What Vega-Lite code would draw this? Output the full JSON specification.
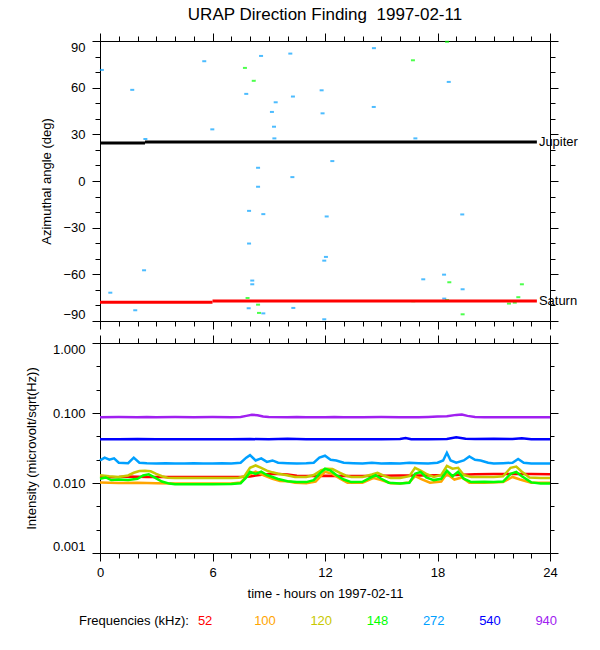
{
  "$schema": "https://vega.github.io/schema/vega-lite/v6.json",
  "description": "URAP direction finding, 1997-02-11: azimuth of detections and intensity per frequency",
  "background": "white",
  "padding": {"left": 25, "top": 5, "right": 5, "bottom": 5},
  "spacing": 4,
  "config": {
    "font": "Liberation Sans",
    "view": {"stroke": null},
    "axis": {
      "grid": false,
      "labelFont": "Liberation Sans",
      "labelFontSize": 13,
      "labelColor": "black",
      "titleFont": "Liberation Sans",
      "titleFontSize": 13,
      "titleFontWeight": "normal",
      "titleColor": "black",
      "tickColor": "black",
      "tickWidth": 1,
      "domainColor": "black",
      "domainWidth": 1
    },
    "text": {"font": "Liberation Sans", "fontSize": 13}
  },
  "datasets": {
    "points": [
      {"freq": "272", "hour": 0.1, "angle": 71.4},
      {"freq": "272", "hour": 1.72, "angle": 58.6},
      {"freq": "272", "hour": 5.56, "angle": 77.0},
      {"freq": "272", "hour": 8.59, "angle": 80.4},
      {"freq": "272", "hour": 10.15, "angle": 81.9},
      {"freq": "272", "hour": 7.8, "angle": 56.0},
      {"freq": "272", "hour": 9.37, "angle": 50.6},
      {"freq": "272", "hour": 9.17, "angle": 44.4},
      {"freq": "272", "hour": 9.28, "angle": 34.9},
      {"freq": "272", "hour": 9.3, "angle": 27.4},
      {"freq": "272", "hour": 5.99, "angle": 33.2},
      {"freq": "272", "hour": 2.42, "angle": 27.0},
      {"freq": "272", "hour": 10.29, "angle": 54.3},
      {"freq": "272", "hour": 11.82, "angle": 58.3},
      {"freq": "272", "hour": 11.87, "angle": 43.5},
      {"freq": "272", "hour": 12.39, "angle": 12.8},
      {"freq": "272", "hour": 8.43, "angle": 8.5},
      {"freq": "272", "hour": 10.26, "angle": 2.5},
      {"freq": "272", "hour": 8.43, "angle": -3.7},
      {"freq": "272", "hour": 7.95, "angle": -19.2},
      {"freq": "272", "hour": 8.71, "angle": -21.3},
      {"freq": "272", "hour": 12.09, "angle": -22.8},
      {"freq": "272", "hour": 7.95, "angle": -40.2},
      {"freq": "272", "hour": 12.05, "angle": -48.8},
      {"freq": "272", "hour": 11.96, "angle": -51.2},
      {"freq": "272", "hour": 2.35, "angle": -57.4},
      {"freq": "272", "hour": 8.12, "angle": -64.0},
      {"freq": "272", "hour": 8.12, "angle": -66.4},
      {"freq": "272", "hour": 0.55, "angle": -71.8},
      {"freq": "272", "hour": 8.71, "angle": -85.1},
      {"freq": "272", "hour": 7.93, "angle": -81.8},
      {"freq": "272", "hour": 10.31, "angle": -81.6},
      {"freq": "272", "hour": 1.88, "angle": -83.1},
      {"freq": "272", "hour": 11.96, "angle": -88.9},
      {"freq": "272", "hour": 14.61, "angle": 85.4},
      {"freq": "272", "hour": 18.6, "angle": 63.7},
      {"freq": "272", "hour": 14.6, "angle": 47.6},
      {"freq": "272", "hour": 16.82, "angle": 27.4},
      {"freq": "272", "hour": 19.32, "angle": -21.5},
      {"freq": "272", "hour": 17.24, "angle": -63.2},
      {"freq": "272", "hour": 18.35, "angle": -60.2},
      {"freq": "272", "hour": 19.34, "angle": -69.6},
      {"freq": "272", "hour": 18.36, "angle": -75.6},
      {"freq": "148", "hour": 7.73, "angle": 72.7},
      {"freq": "148", "hour": 8.2, "angle": 64.4},
      {"freq": "148", "hour": 7.87, "angle": -75.2},
      {"freq": "148", "hour": 8.43, "angle": -79.5},
      {"freq": "148", "hour": 8.48, "angle": -84.8},
      {"freq": "148", "hour": 16.69, "angle": 77.6},
      {"freq": "148", "hour": 18.51, "angle": 89.5},
      {"freq": "148", "hour": 18.63, "angle": -65.1},
      {"freq": "148", "hour": 22.5, "angle": -66.4},
      {"freq": "148", "hour": 22.31, "angle": -74.7},
      {"freq": "148", "hour": 18.51, "angle": -76.5},
      {"freq": "148", "hour": 16.71, "angle": -77.3},
      {"freq": "148", "hour": 21.81, "angle": -78.8},
      {"freq": "148", "hour": 22.12, "angle": -78.2},
      {"freq": "148", "hour": 19.34, "angle": -85.7}
    ],
    "planets": [
      {"planet": "Jupiter", "start": 0, "end": 2.4, "angle": 24.4},
      {"planet": "Jupiter", "start": 2.4, "end": 23.3, "angle": 25.1},
      {"planet": "Saturn", "start": 0, "end": 6.0, "angle": -78.0},
      {"planet": "Saturn", "start": 6.0, "end": 23.3, "angle": -77.1}
    ],
    "intensity": [
      {"freq": "52", "hour": 0, "value": 0.0121},
      {"freq": "52", "hour": 0.5, "value": 0.0121},
      {"freq": "52", "hour": 1, "value": 0.0122},
      {"freq": "52", "hour": 1.5, "value": 0.0124},
      {"freq": "52", "hour": 2, "value": 0.0123},
      {"freq": "52", "hour": 2.5, "value": 0.0122},
      {"freq": "52", "hour": 3, "value": 0.0122},
      {"freq": "52", "hour": 4, "value": 0.0122},
      {"freq": "52", "hour": 5, "value": 0.0122},
      {"freq": "52", "hour": 6, "value": 0.0122},
      {"freq": "52", "hour": 7, "value": 0.0122},
      {"freq": "52", "hour": 7.5, "value": 0.0122},
      {"freq": "52", "hour": 8, "value": 0.0124},
      {"freq": "52", "hour": 8.5, "value": 0.013},
      {"freq": "52", "hour": 9, "value": 0.0134},
      {"freq": "52", "hour": 9.5, "value": 0.0135},
      {"freq": "52", "hour": 10, "value": 0.0132},
      {"freq": "52", "hour": 10.5, "value": 0.0127},
      {"freq": "52", "hour": 11, "value": 0.0126},
      {"freq": "52", "hour": 12, "value": 0.0127},
      {"freq": "52", "hour": 13, "value": 0.0126},
      {"freq": "52", "hour": 14, "value": 0.0126},
      {"freq": "52", "hour": 15, "value": 0.0127},
      {"freq": "52", "hour": 16, "value": 0.0128},
      {"freq": "52", "hour": 17, "value": 0.0128},
      {"freq": "52", "hour": 18, "value": 0.0129},
      {"freq": "52", "hour": 19, "value": 0.013},
      {"freq": "52", "hour": 20, "value": 0.0133},
      {"freq": "52", "hour": 21, "value": 0.0135},
      {"freq": "52", "hour": 22, "value": 0.0135},
      {"freq": "52", "hour": 23, "value": 0.0134},
      {"freq": "52", "hour": 24, "value": 0.0133},

      {"freq": "100", "hour": 0, "value": 0.0102},
      {"freq": "100", "hour": 1, "value": 0.01},
      {"freq": "100", "hour": 2, "value": 0.0101},
      {"freq": "100", "hour": 3, "value": 0.0099},
      {"freq": "100", "hour": 4, "value": 0.0098},
      {"freq": "100", "hour": 5, "value": 0.0098},
      {"freq": "100", "hour": 6, "value": 0.0098},
      {"freq": "100", "hour": 7, "value": 0.0098},
      {"freq": "100", "hour": 7.5, "value": 0.0102},
      {"freq": "100", "hour": 7.9, "value": 0.013},
      {"freq": "100", "hour": 8.3, "value": 0.0145},
      {"freq": "100", "hour": 8.7, "value": 0.013},
      {"freq": "100", "hour": 9.2, "value": 0.0115},
      {"freq": "100", "hour": 9.6, "value": 0.0107},
      {"freq": "100", "hour": 10, "value": 0.0106},
      {"freq": "100", "hour": 10.4, "value": 0.0101},
      {"freq": "100", "hour": 11, "value": 0.0099},
      {"freq": "100", "hour": 11.5, "value": 0.0105},
      {"freq": "100", "hour": 12, "value": 0.0145},
      {"freq": "100", "hour": 12.4, "value": 0.0135},
      {"freq": "100", "hour": 12.8, "value": 0.0115},
      {"freq": "100", "hour": 13.2, "value": 0.0101},
      {"freq": "100", "hour": 14, "value": 0.0101},
      {"freq": "100", "hour": 14.6, "value": 0.0118},
      {"freq": "100", "hour": 15, "value": 0.011},
      {"freq": "100", "hour": 15.5, "value": 0.0099},
      {"freq": "100", "hour": 16, "value": 0.0098},
      {"freq": "100", "hour": 16.5, "value": 0.0102},
      {"freq": "100", "hour": 16.8, "value": 0.0125},
      {"freq": "100", "hour": 17.2, "value": 0.0112},
      {"freq": "100", "hour": 17.6, "value": 0.0101},
      {"freq": "100", "hour": 18.2, "value": 0.0105},
      {"freq": "100", "hour": 18.5, "value": 0.0135},
      {"freq": "100", "hour": 18.9, "value": 0.0112},
      {"freq": "100", "hour": 19.3, "value": 0.012},
      {"freq": "100", "hour": 19.7, "value": 0.0101},
      {"freq": "100", "hour": 20.5, "value": 0.0101},
      {"freq": "100", "hour": 21.5, "value": 0.0103},
      {"freq": "100", "hour": 22, "value": 0.0122},
      {"freq": "100", "hour": 22.4, "value": 0.0112},
      {"freq": "100", "hour": 23, "value": 0.0101},
      {"freq": "100", "hour": 24, "value": 0.0101},

      {"freq": "120", "hour": 0, "value": 0.0129},
      {"freq": "120", "hour": 0.5, "value": 0.0125},
      {"freq": "120", "hour": 1, "value": 0.0122},
      {"freq": "120", "hour": 1.5, "value": 0.0128},
      {"freq": "120", "hour": 1.8, "value": 0.014},
      {"freq": "120", "hour": 2.1, "value": 0.0148},
      {"freq": "120", "hour": 2.4, "value": 0.015},
      {"freq": "120", "hour": 2.7, "value": 0.0147},
      {"freq": "120", "hour": 3.0, "value": 0.0135},
      {"freq": "120", "hour": 3.3, "value": 0.0125},
      {"freq": "120", "hour": 3.6, "value": 0.0119},
      {"freq": "120", "hour": 4, "value": 0.0118},
      {"freq": "120", "hour": 5, "value": 0.0118},
      {"freq": "120", "hour": 6, "value": 0.0118},
      {"freq": "120", "hour": 7, "value": 0.0118},
      {"freq": "120", "hour": 7.4, "value": 0.0119},
      {"freq": "120", "hour": 7.7, "value": 0.0125},
      {"freq": "120", "hour": 8.0, "value": 0.0165},
      {"freq": "120", "hour": 8.3, "value": 0.0178},
      {"freq": "120", "hour": 8.6, "value": 0.0165},
      {"freq": "120", "hour": 8.9, "value": 0.015},
      {"freq": "120", "hour": 9.2, "value": 0.0142},
      {"freq": "120", "hour": 9.5, "value": 0.0136},
      {"freq": "120", "hour": 9.9, "value": 0.013},
      {"freq": "120", "hour": 10.4, "value": 0.0122},
      {"freq": "120", "hour": 11, "value": 0.0122},
      {"freq": "120", "hour": 11.4, "value": 0.013},
      {"freq": "120", "hour": 11.8, "value": 0.0152},
      {"freq": "120", "hour": 12.1, "value": 0.016},
      {"freq": "120", "hour": 12.4, "value": 0.0158},
      {"freq": "120", "hour": 12.8, "value": 0.014},
      {"freq": "120", "hour": 13.1, "value": 0.0128},
      {"freq": "120", "hour": 13.4, "value": 0.0122},
      {"freq": "120", "hour": 14, "value": 0.0122},
      {"freq": "120", "hour": 14.5, "value": 0.0132},
      {"freq": "120", "hour": 14.8, "value": 0.014},
      {"freq": "120", "hour": 15.1, "value": 0.0128},
      {"freq": "120", "hour": 15.5, "value": 0.0118},
      {"freq": "120", "hour": 16, "value": 0.0118},
      {"freq": "120", "hour": 16.5, "value": 0.0125},
      {"freq": "120", "hour": 16.8, "value": 0.0165},
      {"freq": "120", "hour": 17.1, "value": 0.015},
      {"freq": "120", "hour": 17.4, "value": 0.0135},
      {"freq": "120", "hour": 17.8, "value": 0.0122},
      {"freq": "120", "hour": 18.2, "value": 0.013},
      {"freq": "120", "hour": 18.5, "value": 0.0175},
      {"freq": "120", "hour": 18.8, "value": 0.016},
      {"freq": "120", "hour": 19.1, "value": 0.0165},
      {"freq": "120", "hour": 19.4, "value": 0.013},
      {"freq": "120", "hour": 19.8, "value": 0.0122},
      {"freq": "120", "hour": 20.5, "value": 0.0122},
      {"freq": "120", "hour": 21, "value": 0.0122},
      {"freq": "120", "hour": 21.5, "value": 0.0125},
      {"freq": "120", "hour": 21.9, "value": 0.0165},
      {"freq": "120", "hour": 22.2, "value": 0.0172},
      {"freq": "120", "hour": 22.5, "value": 0.0145},
      {"freq": "120", "hour": 22.9, "value": 0.012},
      {"freq": "120", "hour": 23.5, "value": 0.0118},
      {"freq": "120", "hour": 24, "value": 0.0118},

      {"freq": "148", "hour": 0, "value": 0.0115},
      {"freq": "148", "hour": 0.3, "value": 0.012},
      {"freq": "148", "hour": 0.6, "value": 0.011},
      {"freq": "148", "hour": 1, "value": 0.0112},
      {"freq": "148", "hour": 1.5, "value": 0.011},
      {"freq": "148", "hour": 2, "value": 0.0115},
      {"freq": "148", "hour": 2.3, "value": 0.0128},
      {"freq": "148", "hour": 2.6, "value": 0.0133},
      {"freq": "148", "hour": 2.9, "value": 0.012},
      {"freq": "148", "hour": 3.3, "value": 0.0105},
      {"freq": "148", "hour": 3.7, "value": 0.0098},
      {"freq": "148", "hour": 4, "value": 0.0096},
      {"freq": "148", "hour": 5, "value": 0.0096},
      {"freq": "148", "hour": 6, "value": 0.0096},
      {"freq": "148", "hour": 7, "value": 0.0097},
      {"freq": "148", "hour": 7.5, "value": 0.0099},
      {"freq": "148", "hour": 7.8, "value": 0.012},
      {"freq": "148", "hour": 8.0, "value": 0.0145},
      {"freq": "148", "hour": 8.3, "value": 0.0135},
      {"freq": "148", "hour": 8.6, "value": 0.0145},
      {"freq": "148", "hour": 8.9, "value": 0.013},
      {"freq": "148", "hour": 9.2, "value": 0.0122},
      {"freq": "148", "hour": 9.5, "value": 0.0114},
      {"freq": "148", "hour": 10, "value": 0.0106},
      {"freq": "148", "hour": 10.5, "value": 0.0103},
      {"freq": "148", "hour": 11, "value": 0.0103},
      {"freq": "148", "hour": 11.4, "value": 0.011},
      {"freq": "148", "hour": 11.7, "value": 0.0135},
      {"freq": "148", "hour": 12, "value": 0.016},
      {"freq": "148", "hour": 12.3, "value": 0.015},
      {"freq": "148", "hour": 12.6, "value": 0.013},
      {"freq": "148", "hour": 13, "value": 0.0112},
      {"freq": "148", "hour": 13.4, "value": 0.0103},
      {"freq": "148", "hour": 14, "value": 0.0104},
      {"freq": "148", "hour": 14.4, "value": 0.0118},
      {"freq": "148", "hour": 14.7, "value": 0.0129},
      {"freq": "148", "hour": 15, "value": 0.0115},
      {"freq": "148", "hour": 15.4, "value": 0.0101},
      {"freq": "148", "hour": 16, "value": 0.0098},
      {"freq": "148", "hour": 16.5, "value": 0.0101},
      {"freq": "148", "hour": 16.8, "value": 0.0135},
      {"freq": "148", "hour": 17.1, "value": 0.0144},
      {"freq": "148", "hour": 17.4, "value": 0.012},
      {"freq": "148", "hour": 17.8, "value": 0.011},
      {"freq": "148", "hour": 18.2, "value": 0.0115},
      {"freq": "148", "hour": 18.5, "value": 0.015},
      {"freq": "148", "hour": 18.8, "value": 0.0125},
      {"freq": "148", "hour": 19.1, "value": 0.0145},
      {"freq": "148", "hour": 19.4, "value": 0.0115},
      {"freq": "148", "hour": 19.8, "value": 0.0103},
      {"freq": "148", "hour": 20.5, "value": 0.0104},
      {"freq": "148", "hour": 21, "value": 0.0103},
      {"freq": "148", "hour": 21.5, "value": 0.0105},
      {"freq": "148", "hour": 21.9, "value": 0.0135},
      {"freq": "148", "hour": 22.2, "value": 0.0144},
      {"freq": "148", "hour": 22.5, "value": 0.0125},
      {"freq": "148", "hour": 23, "value": 0.0102},
      {"freq": "148", "hour": 23.5, "value": 0.0098},
      {"freq": "148", "hour": 24, "value": 0.0098},

      {"freq": "272", "hour": 0, "value": 0.021},
      {"freq": "272", "hour": 0.25, "value": 0.023},
      {"freq": "272", "hour": 0.5, "value": 0.0215},
      {"freq": "272", "hour": 0.75, "value": 0.0225},
      {"freq": "272", "hour": 1, "value": 0.0195},
      {"freq": "272", "hour": 1.5, "value": 0.0192},
      {"freq": "272", "hour": 1.8, "value": 0.023},
      {"freq": "272", "hour": 2.1, "value": 0.0195},
      {"freq": "272", "hour": 2.5, "value": 0.0192},
      {"freq": "272", "hour": 3, "value": 0.019},
      {"freq": "272", "hour": 3.5, "value": 0.0192},
      {"freq": "272", "hour": 4, "value": 0.019},
      {"freq": "272", "hour": 4.5, "value": 0.019},
      {"freq": "272", "hour": 5, "value": 0.0192},
      {"freq": "272", "hour": 5.5, "value": 0.019},
      {"freq": "272", "hour": 6, "value": 0.019},
      {"freq": "272", "hour": 6.5, "value": 0.0192},
      {"freq": "272", "hour": 7, "value": 0.019},
      {"freq": "272", "hour": 7.5, "value": 0.0195},
      {"freq": "272", "hour": 7.8, "value": 0.023},
      {"freq": "272", "hour": 8.0, "value": 0.025},
      {"freq": "272", "hour": 8.3, "value": 0.021},
      {"freq": "272", "hour": 8.6, "value": 0.0225},
      {"freq": "272", "hour": 8.9, "value": 0.02},
      {"freq": "272", "hour": 9.2, "value": 0.021},
      {"freq": "272", "hour": 9.5, "value": 0.0195},
      {"freq": "272", "hour": 10, "value": 0.0192},
      {"freq": "272", "hour": 10.5, "value": 0.019},
      {"freq": "272", "hour": 11, "value": 0.0192},
      {"freq": "272", "hour": 11.4, "value": 0.0195},
      {"freq": "272", "hour": 11.7, "value": 0.023},
      {"freq": "272", "hour": 12.0, "value": 0.0245},
      {"freq": "272", "hour": 12.3, "value": 0.0215},
      {"freq": "272", "hour": 12.6, "value": 0.021},
      {"freq": "272", "hour": 13, "value": 0.0195},
      {"freq": "272", "hour": 13.5, "value": 0.0192},
      {"freq": "272", "hour": 14, "value": 0.019},
      {"freq": "272", "hour": 14.5, "value": 0.0195},
      {"freq": "272", "hour": 15, "value": 0.019},
      {"freq": "272", "hour": 15.5, "value": 0.0192},
      {"freq": "272", "hour": 16, "value": 0.019},
      {"freq": "272", "hour": 16.5, "value": 0.0195},
      {"freq": "272", "hour": 17, "value": 0.0192},
      {"freq": "272", "hour": 17.5, "value": 0.019},
      {"freq": "272", "hour": 18, "value": 0.0195},
      {"freq": "272", "hour": 18.3, "value": 0.021},
      {"freq": "272", "hour": 18.5, "value": 0.027},
      {"freq": "272", "hour": 18.7, "value": 0.021},
      {"freq": "272", "hour": 19, "value": 0.0195},
      {"freq": "272", "hour": 19.4, "value": 0.021},
      {"freq": "272", "hour": 19.7, "value": 0.024},
      {"freq": "272", "hour": 20, "value": 0.0215},
      {"freq": "272", "hour": 20.3, "value": 0.021},
      {"freq": "272", "hour": 20.7, "value": 0.0195},
      {"freq": "272", "hour": 21, "value": 0.019},
      {"freq": "272", "hour": 21.5, "value": 0.0192},
      {"freq": "272", "hour": 22, "value": 0.0195},
      {"freq": "272", "hour": 22.3, "value": 0.022},
      {"freq": "272", "hour": 22.6, "value": 0.0195},
      {"freq": "272", "hour": 23, "value": 0.019},
      {"freq": "272", "hour": 23.5, "value": 0.019},
      {"freq": "272", "hour": 24, "value": 0.019},

      {"freq": "540", "hour": 0, "value": 0.042},
      {"freq": "540", "hour": 1, "value": 0.042},
      {"freq": "540", "hour": 2, "value": 0.0425},
      {"freq": "540", "hour": 3, "value": 0.042},
      {"freq": "540", "hour": 4, "value": 0.042},
      {"freq": "540", "hour": 5, "value": 0.0422},
      {"freq": "540", "hour": 6, "value": 0.042},
      {"freq": "540", "hour": 7, "value": 0.042},
      {"freq": "540", "hour": 8, "value": 0.0425},
      {"freq": "540", "hour": 9, "value": 0.042},
      {"freq": "540", "hour": 10, "value": 0.043},
      {"freq": "540", "hour": 11, "value": 0.042},
      {"freq": "540", "hour": 12, "value": 0.0422},
      {"freq": "540", "hour": 13, "value": 0.042},
      {"freq": "540", "hour": 14, "value": 0.042},
      {"freq": "540", "hour": 15, "value": 0.042},
      {"freq": "540", "hour": 16, "value": 0.0425},
      {"freq": "540", "hour": 16.3, "value": 0.044},
      {"freq": "540", "hour": 16.6, "value": 0.0422},
      {"freq": "540", "hour": 17.5, "value": 0.042},
      {"freq": "540", "hour": 18.5, "value": 0.0425},
      {"freq": "540", "hour": 19, "value": 0.045},
      {"freq": "540", "hour": 19.5, "value": 0.043},
      {"freq": "540", "hour": 20, "value": 0.0425},
      {"freq": "540", "hour": 21, "value": 0.043},
      {"freq": "540", "hour": 22, "value": 0.0425},
      {"freq": "540", "hour": 22.5, "value": 0.0435},
      {"freq": "540", "hour": 23, "value": 0.0422},
      {"freq": "540", "hour": 24, "value": 0.042},

      {"freq": "940", "hour": 0, "value": 0.087},
      {"freq": "940", "hour": 1, "value": 0.0875},
      {"freq": "940", "hour": 2, "value": 0.087},
      {"freq": "940", "hour": 2.5, "value": 0.0875},
      {"freq": "940", "hour": 3, "value": 0.087},
      {"freq": "940", "hour": 4, "value": 0.0875},
      {"freq": "940", "hour": 5, "value": 0.087},
      {"freq": "940", "hour": 6, "value": 0.0875},
      {"freq": "940", "hour": 7, "value": 0.087},
      {"freq": "940", "hour": 7.5, "value": 0.088},
      {"freq": "940", "hour": 7.8, "value": 0.091},
      {"freq": "940", "hour": 8.1, "value": 0.094},
      {"freq": "940", "hour": 8.4, "value": 0.093},
      {"freq": "940", "hour": 8.7, "value": 0.089},
      {"freq": "940", "hour": 9, "value": 0.0875},
      {"freq": "940", "hour": 10, "value": 0.087},
      {"freq": "940", "hour": 10.5, "value": 0.0875},
      {"freq": "940", "hour": 11, "value": 0.087},
      {"freq": "940", "hour": 12, "value": 0.087},
      {"freq": "940", "hour": 12.5, "value": 0.0875},
      {"freq": "940", "hour": 13, "value": 0.087},
      {"freq": "940", "hour": 14, "value": 0.087},
      {"freq": "940", "hour": 15, "value": 0.0875},
      {"freq": "940", "hour": 16, "value": 0.087},
      {"freq": "940", "hour": 17, "value": 0.087},
      {"freq": "940", "hour": 17.5, "value": 0.088},
      {"freq": "940", "hour": 18, "value": 0.089},
      {"freq": "940", "hour": 18.5, "value": 0.09},
      {"freq": "940", "hour": 19, "value": 0.094},
      {"freq": "940", "hour": 19.3, "value": 0.095},
      {"freq": "940", "hour": 19.6, "value": 0.091},
      {"freq": "940", "hour": 20, "value": 0.088},
      {"freq": "940", "hour": 20.5, "value": 0.087},
      {"freq": "940", "hour": 21, "value": 0.087},
      {"freq": "940", "hour": 22, "value": 0.087},
      {"freq": "940", "hour": 23, "value": 0.087},
      {"freq": "940", "hour": 24, "value": 0.087}
    ],
    "freqs": [
      {"freq": "52"}, {"freq": "100"}, {"freq": "120"}, {"freq": "148"},
      {"freq": "272"}, {"freq": "540"}, {"freq": "940"}
    ]
  },
  "vconcat": [
    {
      "title": {
        "text": "URAP Direction Finding\u00a0 1997-02-11",
        "fontSize": 17,
        "fontWeight": "normal",
        "font": "Liberation Sans",
        "color": "black",
        "anchor": "middle",
        "frame": "group",
        "offset": 9
      },
      "width": 450,
      "height": 280,
      "resolve": {"axis": {"x": "independent", "y": "independent"}},
      "layer": [
        {
          "data": {"name": "points"},
          "mark": {"type": "tick", "orient": "horizontal", "size": 4, "thickness": 2},
          "encoding": {
            "x": {
              "field": "hour", "type": "quantitative",
              "scale": {"domain": [0, 24], "nice": false, "zero": false},
              "axis": {"orient": "bottom", "values": [0, 6, 12, 18, 24], "labels": false, "tickSize": 8, "title": null}
            },
            "y": {
              "field": "angle", "type": "quantitative",
              "scale": {"domain": [-90, 90], "nice": false, "zero": false},
              "axis": {
                "orient": "left", "values": [-90, -60, -30, 0, 30, 60, 90],
                "tickSize": 8, "labelPadding": 7, "labelFlush": true,
                "title": "Azimuthal angle (deg)", "titlePadding": 9
              }
            },
            "color": {
              "field": "freq", "type": "nominal",
              "scale": {
                "domain": ["52", "100", "120", "148", "272", "540", "940"],
                "range": ["#ff0000", "#ffa500", "#c8c800", "#00ff00", "#00a0ff", "#0000ff", "#a020f0"]
              },
              "legend": null
            }
          }
        },
        {
          "data": {"name": "planets"},
          "transform": [{"filter": "datum.planet == 'Jupiter'"}],
          "mark": {"type": "rule", "color": "black", "strokeWidth": 3},
          "encoding": {
            "x": {
              "field": "start", "type": "quantitative",
              "axis": {"orient": "bottom", "values": [0,1,2,3,4,5,6,7,8,9,10,11,12,13,14,15,16,17,18,19,20,21,22,23,24], "labels": false, "domain": false, "tickSize": 5, "title": null}
            },
            "x2": {"field": "end"},
            "y": {
              "field": "angle", "type": "quantitative",
              "axis": {"orient": "left", "values": [-90,-80,-70,-60,-50,-40,-30,-20,-10,0,10,20,30,40,50,60,70,80,90], "labels": false, "domain": false, "tickSize": 5, "title": null}
            }
          }
        },
        {
          "data": {"name": "planets"},
          "transform": [{"filter": "datum.planet == 'Saturn'"}],
          "mark": {"type": "rule", "color": "#ff0000", "strokeWidth": 3},
          "encoding": {
            "x": {
              "field": "start", "type": "quantitative",
              "axis": {"orient": "top", "values": [0, 6, 12, 18, 24], "labels": false, "tickSize": 8, "title": null}
            },
            "x2": {"field": "end"},
            "y": {
              "field": "angle", "type": "quantitative",
              "axis": {"orient": "right", "values": [-90, -60, -30, 0, 30, 60, 90], "labels": false, "tickSize": 8, "title": null}
            }
          }
        },
        {
          "data": {"name": "planets"},
          "transform": [{"filter": "datum.end > 20"}],
          "mark": {"type": "text", "align": "left", "baseline": "middle", "dx": 2, "fontSize": 13, "color": "black"},
          "encoding": {
            "x": {
              "field": "end", "type": "quantitative",
              "axis": {"orient": "top", "values": [0,1,2,3,4,5,6,7,8,9,10,11,12,13,14,15,16,17,18,19,20,21,22,23,24], "labels": false, "domain": false, "tickSize": 5, "title": null}
            },
            "y": {
              "field": "angle", "type": "quantitative",
              "axis": {"orient": "right", "values": [-90,-80,-70,-60,-50,-40,-30,-20,-10,0,10,20,30,40,50,60,70,80,90], "labels": false, "domain": false, "tickSize": 5, "title": null}
            },
            "text": {"field": "planet"}
          }
        }
      ]
    },
    {
      "width": 450,
      "height": 210,
      "resolve": {"axis": {"x": "independent", "y": "independent"}},
      "encoding": {
        "color": {
          "field": "freq", "type": "nominal",
          "scale": {
            "domain": ["52", "100", "120", "148", "272", "540", "940"],
            "range": ["#ff0000", "#ffa500", "#c8c800", "#00ff00", "#00a0ff", "#0000ff", "#a020f0"]
          },
          "legend": null
        }
      },
      "layer": [
        {
          "data": {"name": "intensity"},
          "transform": [{"filter": {"field": "freq", "oneOf": ["52", "100", "120", "148"]}}],
          "mark": {"type": "line", "strokeWidth": 2.5},
          "encoding": {
            "x": {
              "field": "hour", "type": "quantitative",
              "scale": {"domain": [0, 24], "nice": false, "zero": false},
              "axis": {
                "orient": "bottom", "values": [0, 6, 12, 18, 24], "tickSize": 8,
                "labelPadding": 5, "labelFlush": false,
                "title": "time - hours on 1997-02-11", "titlePadding": 8
              }
            },
            "y": {
              "field": "value", "type": "quantitative",
              "scale": {"type": "log", "domain": [0.001, 1], "nice": false},
              "axis": {
                "orient": "left", "values": [0.001, 0.01, 0.1, 1], "format": ".3f",
                "tickSize": 8, "labelPadding": 7, "labelFlush": true,
                "title": "Intensity (microvolt/sqrt(Hz))", "titlePadding": 14
              }
            }
          }
        },
        {
          "data": {"name": "intensity"},
          "transform": [{"filter": "datum.freq == '272'"}],
          "mark": {"type": "line", "strokeWidth": 2.5},
          "encoding": {
            "x": {
              "field": "hour", "type": "quantitative",
              "axis": {"orient": "bottom", "values": [0,1,2,3,4,5,6,7,8,9,10,11,12,13,14,15,16,17,18,19,20,21,22,23,24], "labels": false, "domain": false, "tickSize": 5, "title": null}
            },
            "y": {
              "field": "value", "type": "quantitative",
              "axis": {"orient": "left", "values": [0.001, 0.002154, 0.004642, 0.01, 0.02154, 0.04642, 0.1, 0.2154, 0.4642, 1], "labels": false, "domain": false, "tickSize": 4, "title": null}
            }
          }
        },
        {
          "data": {"name": "intensity"},
          "transform": [{"filter": "datum.freq == '540'"}],
          "mark": {"type": "line", "strokeWidth": 2.5},
          "encoding": {
            "x": {
              "field": "hour", "type": "quantitative",
              "axis": {"orient": "top", "values": [0, 6, 12, 18, 24], "labels": false, "tickSize": 8, "title": null}
            },
            "y": {
              "field": "value", "type": "quantitative",
              "axis": {"orient": "right", "values": [0.001, 0.01, 0.1, 1], "labels": false, "tickSize": 8, "title": null}
            }
          }
        },
        {
          "data": {"name": "intensity"},
          "transform": [{"filter": "datum.freq == '940'"}],
          "mark": {"type": "line", "strokeWidth": 2.5},
          "encoding": {
            "x": {
              "field": "hour", "type": "quantitative",
              "axis": {"orient": "top", "values": [0,1,2,3,4,5,6,7,8,9,10,11,12,13,14,15,16,17,18,19,20,21,22,23,24], "labels": false, "domain": false, "tickSize": 5, "title": null}
            },
            "y": {
              "field": "value", "type": "quantitative",
              "axis": {"orient": "right", "values": [0.001, 0.002154, 0.004642, 0.01, 0.02154, 0.04642, 0.1, 0.2154, 0.4642, 1], "labels": false, "domain": false, "tickSize": 4, "title": null}
            }
          }
        }
      ]
    },
    {
      "width": 450,
      "height": 34,
      "layer": [
        {
          "data": {"name": "freqs"},
          "mark": {"type": "text", "align": "left", "baseline": "middle", "fontSize": 13},
          "encoding": {
            "x": {
              "field": "freq", "type": "nominal", "sort": null,
              "scale": {"type": "point", "domain": ["52", "100", "120", "148", "272", "540", "940"], "padding": 1.5, "align": 0.87},
              "axis": null
            },
            "text": {"field": "freq"},
            "color": {
              "field": "freq", "type": "nominal",
              "scale": {
                "domain": ["52", "100", "120", "148", "272", "540", "940"],
                "range": ["#ff0000", "#ffa500", "#c8c800", "#00ff00", "#00a0ff", "#0000ff", "#a020f0"]
              },
              "legend": null
            }
          }
        },
        {
          "data": {"values": [{"caption": "Frequencies (kHz):"}]},
          "mark": {"type": "text", "align": "right", "baseline": "middle", "dx": -9, "fontSize": 13, "color": "black"},
          "encoding": {
            "x": {"datum": "52", "type": "nominal", "axis": null},
            "text": {"field": "caption"}
          }
        }
      ]
    }
  ]
}
